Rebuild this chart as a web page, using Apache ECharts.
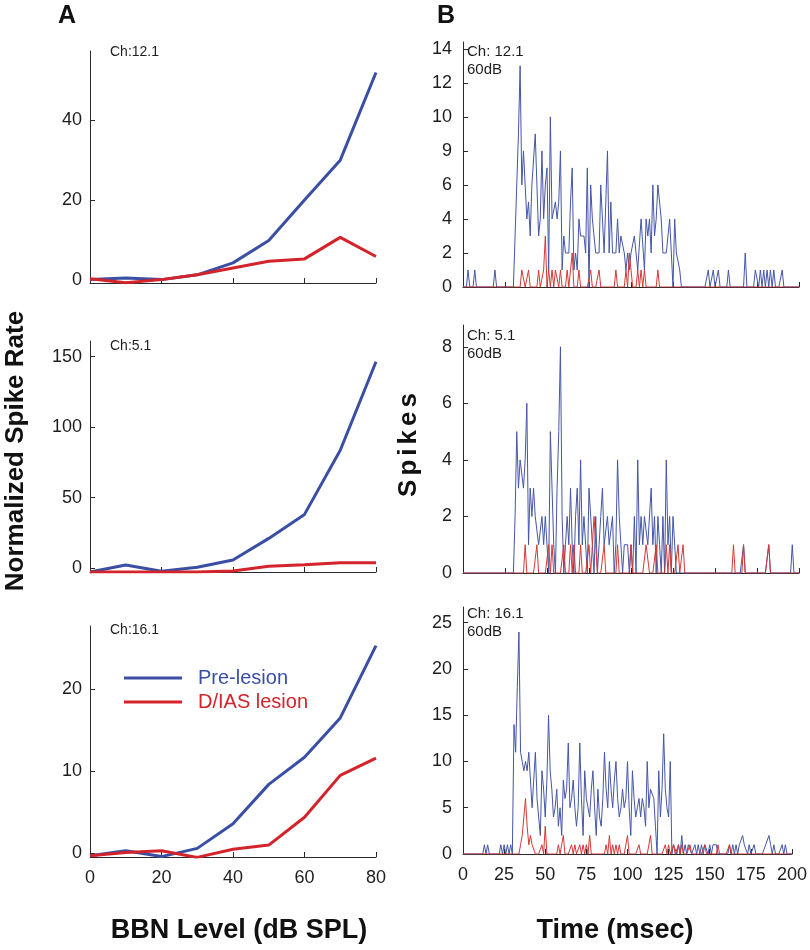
<!DOCTYPE html>
<html><head><meta charset="utf-8">
<script src="https://cdn.jsdelivr.net/npm/echarts@6/dist/echarts.min.js"></script>
<style>html,body{margin:0;padding:0;background:#fff}#c{width:810px;height:950px}</style>
</head><body><div id="c"></div>
<script>
const FONT = "'Liberation Sans', Arial, Helvetica, sans-serif";

// ---- Panel A: normalized spike rate vs BBN level ----
const bbnLevels = [0,10,20,30,40,50,60,70,80];
const bbnTicks = [0,20,40,60,80];
const ch12Pre  = [0, 0.4, 0, 1.2, 4.2, 9.8, 20, 30, 52];
const ch12Post = [0.2, -0.8, 0, 1.2, 2.9, 4.6, 5.2, 10.6, 5.8];
const ch5Pre   = [-2.6, 2.3, -2, 0.7, 5.9, 21.2, 38.2, 83.6, 146.3];
const ch5Post  = [-2.6, -2.6, -2.6, -2.6, -1.9, 1.4, 2.6, 4.0, 4.0];
const ch16Pre  = [-0.3, 0.3, -0.4, 0.6, 3.6, 8.4, 11.7, 16.5, 25.3];
const ch16Post = [-0.3, 0.1, 0.3, -0.5, 0.5, 1.0, 4.4, 9.5, 11.6];
const ch12YTicks = [0,20,40];
const ch5YTicks = [0,50,100,150];
const ch16YTicks = [0,10,20];

// ---- Panel B: PSTH, spikes per 1 ms bin, 0..200 ms ----
const timeTicks = [0,25,50,75,100,125,150,175,200];
const psthCh12Pre = [
 0,0,0,1,0,0,0,1,0,0,
 0,0,0,0,0,0,0,0,0,1,
 0,0,0,0,0,0,0,0,0,0,
 0,3,6,9,13,6,8,8,4,5,
 3,6,6,9,6,3,4,8,4,6,
 7,1,10,4,4,5,4,5,8,1,
 3,2,2,2,5,7,1,2,1,4,
 3,3,3,2,7,0,6,4,3,2,
 2,2,6,4,2,2,8,2,5,2,
 2,2,4,2,3,3,2,1,2,1,
 2,2,3,2,1,1,4,4,1,4,
 3,4,2,6,3,4,6,6,4,2,
 2,2,3,4,2,0,4,2,2,1,
 0,0,0,0,0,0,0,0,0,0,
 0,0,0,0,0,0,1,0,0,1,
 0,0,1,0,0,0,0,0,1,0,
 0,0,0,0,0,0,0,0,2,0,
 0,0,0,0,1,1,0,1,0,1,
 0,1,0,1,0,1,0,0,0,0,
 1,0,0,0,0,0,0,0,0,0,
 0];
const psthCh12Post = [
 0,0,0,0,0,0,0,0,0,0,
 0,0,0,0,0,0,0,0,0,0,
 0,0,0,0,0,0,0,0,0,0,
 0,0,0,0,0,1,1,0,0,1,
 0,0,0,0,0,1,0,0,1,3,
 0,1,0,1,0,1,1,0,1,0,
 0,0,1,0,0,2,0,0,0,1,
 0,0,0,0,0,0,1,0,0,0,
 0,1,0,0,0,0,0,0,0,0,
 0,1,0,0,0,0,0,1,0,2,
 1,0,0,0,1,0,1,0,1,0,
 0,0,0,0,0,0,1,0,0,0,
 0,0,0,0,0,0,0,0,0,0,
 0,0,0,0,0,0,0,0,0,0,
 0,0,0,0,0,0,0,0,0,0,
 0,0,0,0,0,0,0,0,0,0,
 0,0,0,0,0,0,0,0,0,0,
 0,0,0,0,0,0,0,0,0,0,
 0,0,0,0,0,0,0,0,0,0,
 0,0,0,0,0,0,0,0,0,0,
 0];
const psthCh5Pre = [
 0,0,0,0,0,0,0,0,0,0,
 0,0,0,0,0,0,0,0,0,0,
 0,0,0,0,0,0,0,0,0,0,
 0,2,5,3,4,4,3,4,6,1,
 3,2,3,2,2,1,1,2,1,2,
 2,0,5,3,1,0,3,5,8,2,
 0,1,2,1,3,1,0,2,3,1,
 4,1,2,1,0,3,3,1,0,2,
 0,1,2,3,1,1,2,1,1,2,
 0,1,4,2,1,0,1,1,1,0,
 1,0,2,0,4,1,2,1,2,2,
 1,1,3,1,2,0,2,1,0,2,
 0,4,1,2,0,2,2,0,0,0,
 0,0,0,0,0,0,0,0,0,0,
 0,0,0,0,0,0,0,0,0,0,
 0,0,0,0,0,0,0,0,0,0,
 0,0,0,0,0,0,0,1,0,0,
 0,0,0,0,0,0,0,0,0,0,
 0,0,1,0,0,0,0,0,0,0,
 0,0,0,0,0,0,1,0,0,0,
 0];
const psthCh5Post = [
 0,0,0,0,0,0,0,0,0,0,
 0,0,0,0,0,0,0,0,0,0,
 0,0,0,0,0,0,0,0,0,0,
 0,0,0,0,0,0,0,1,0,0,
 0,0,0,0,1,0,0,0,0,0,
 0,1,0,1,0,0,0,0,0,0,
 1,0,0,0,1,0,1,0,0,0,
 1,0,0,0,0,1,0,1,2,1,
 0,0,0,0,1,0,0,0,0,0,
 0,0,1,0,0,0,0,0,0,0,
 1,0,0,0,0,0,0,0,0,1,
 1,0,0,0,0,1,0,0,0,0,
 0,1,0,1,0,0,0,0,1,0,
 0,1,0,0,0,0,0,0,0,0,
 0,0,0,0,0,0,0,0,0,0,
 0,0,0,0,0,0,0,0,0,0,
 0,1,0,0,0,0,0,1,0,0,
 0,0,0,0,0,0,0,0,0,0,
 0,0,1,0,0,0,0,0,0,0,
 0,0,0,0,0,0,0,0,0,0,
 0];
const psthCh16Pre = [
 0,0,0,0,0,0,0,0,0,0,
 0,0,0,1,0,1,0,0,0,0,
 0,0,0,1,0,1,0,1,0,1,
 0,14,11,18,24,11,10,9,10,9,
 11,11,5,8,11,6,4,2,9,7,
 4,8,15,9,7,4,5,7,3,5,
 2,8,6,7,12,5,6,8,5,3,
 5,12,6,2,9,6,5,4,7,9,
 5,2,7,4,3,6,11,7,5,10,
 7,5,8,10,6,4,5,7,5,6,
 10,5,2,9,6,4,5,6,4,6,
 5,3,10,5,7,7,6,3,0,9,
 4,7,13,7,5,4,10,0,1,1,
 0,1,0,2,0,1,0,1,1,0,
 0,1,0,1,0,1,0,1,1,0,
 1,0,1,1,1,0,0,0,0,0,
 0,0,1,0,1,0,1,0,1,1,
 2,1,1,0,1,0,0,1,0,0,
 0,0,0,0,1,1,2,1,0,1,
 0,0,0,0,1,0,1,0,0,0,
 0];
const psthCh16Post = [
 0,0,0,0,0,0,0,0,0,0,
 0,0,0,0,0,0,0,0,0,0,
 0,0,0,0,0,0,0,0,0,0,
 0,0,0,0,0,1,2,4,6,3,
 1,2,1,1,0,0,0,0,1,0,
 3,0,0,0,0,0,0,0,1,0,
 1,2,0,0,0,0,1,0,1,0,
 0,1,0,1,0,1,0,2,0,0,
 0,0,0,0,0,0,0,1,0,2,
 0,1,0,1,0,1,0,0,0,0,
 2,0,0,0,0,0,0,1,0,0,
 0,0,0,0,2,0,0,0,0,0,
 0,0,0,1,0,1,0,0,1,0,
 0,1,0,1,0,0,0,0,1,0,
 0,0,0,0,0,0,0,1,0,0,
 0,0,0,0,0,1,0,0,0,0,
 0,0,1,0,0,0,0,0,0,0,
 0,0,0,0,0,0,0,0,0,0,
 0,0,0,0,0,0,0,0,0,0,
 0,0,0,0,0,0,0,0,0,0,
 0];
const psth12YTicks = [0,2,4,6,8,10,12,14];
const psth12YLabels = ['0','2','4','6','9','10','12','14'];
const psth5YTicks = [0,2,4,6,8];
const psth16YTicks = [0,5,10,15,20,25];

const seriesNames = ['Pre-lesion', 'D/IAS lesion'];
const chLabelsA = ['Ch:12.1', 'Ch:5.1', 'Ch:16.1'];
const chLabelsB = ['Ch: 12.1\n60dB', 'Ch: 5.1\n60dB', 'Ch: 16.1\n60dB'];

// ---- styles / layout ----
const BLUE_A = '#3a4fa3', RED_A = '#d3242b';
const BLUE_B = '#4556a6', RED_B = '#d53838';
const AXC = '#2a2a2a', TXC = '#1e1e1e';

const gridsA = [
  {left: 90, top: 51, width: 286, height: 232},
  {left: 90, top: 341, width: 286, height: 231},
  {left: 90, top: 626, width: 286, height: 231}
];
const gridsB = [
  {left: 463, top: 42, width: 336, height: 245},
  {left: 463, top: 325, width: 336, height: 248},
  {left: 463, top: 607, width: 336, height: 247}
];
const yRangesA = [[-0.85, 57.4], [-2.6, 161], [-0.45, 27.7]];
const yRangesB = [[0, 14.4], [0, 8.77], [0, 26.7]];
const yTicksA = [ch12YTicks, ch5YTicks, ch16YTicks];
const yTicksB = [psth12YTicks, psth5YTicks, psth16YTicks];
const dataA = [[ch12Pre, ch12Post], [ch5Pre, ch5Post], [ch16Pre, ch16Post]];
const dataB = [[psthCh12Pre, psthCh12Post], [psthCh5Pre, psthCh5Post], [psthCh16Pre, psthCh16Post]];

const grid = [], xAxis = [], yAxis = [], series = [];

function mkX(gi, min, max, ticks, showLabels) {
  return {
    gridIndex: gi, type: 'value', min: min, max: max, interval: ticks[1] - ticks[0],
    axisLine: {show: true, onZero: false, lineStyle: {color: AXC, width: 1}},
    axisTick: {show: true, inside: true, length: 5, lineStyle: {color: AXC}},
    axisLabel: {show: showLabels, fontSize: 18, color: TXC, fontFamily: FONT, margin: 12},
    splitLine: {show: false}
  };
}
function mkY(gi, range, ticks, margin, labels) {
  return {
    gridIndex: gi, type: 'value', min: range[0], max: range[1],
    axisLine: {show: true, onZero: false, lineStyle: {color: AXC, width: 1}},
    axisTick: {show: true, inside: true, length: 5, lineStyle: {color: AXC}, customValues: ticks},
    axisLabel: {show: true, fontSize: 18, color: TXC, fontFamily: FONT, margin: margin, customValues: ticks,
      formatter: function (v) {
        if (labels) { const i = ticks.indexOf(v); return i >= 0 ? labels[i] : ''; }
        return String(v);
      }},
    splitLine: {show: false}
  };
}

for (let p = 0; p < 3; p++) {
  grid.push(gridsA[p]);
  xAxis.push(mkX(p, 0, 80, bbnTicks, p === 2));
  yAxis.push(mkY(p, yRangesA[p], yTicksA[p], 8, null));
  [BLUE_A, RED_A].forEach(function (col, k) {
    series.push({
      name: seriesNames[k], type: 'line', xAxisIndex: p, yAxisIndex: p,
      data: bbnLevels.map(function (x, i) { return [x, dataA[p][k][i]]; }),
      showSymbol: false, symbol: 'none', lineStyle: {color: col, width: 3}, itemStyle: {color: col},
      silent: true, animation: false, z: 2 + k
    });
  });
}
for (let p = 0; p < 3; p++) {
  const gi = 3 + p;
  grid.push(gridsB[p]);
  xAxis.push(mkX(gi, 0, 200, timeTicks, p === 2));
  yAxis.push(mkY(gi, yRangesB[p], yTicksB[p], 11, p === 0 ? psth12YLabels : null));
  [BLUE_B, RED_B].forEach(function (col, k) {
    series.push({
      name: seriesNames[k], type: 'line', xAxisIndex: gi, yAxisIndex: gi,
      data: dataB[p][k].map(function (v, ms) { return [ms, v]; }),
      showSymbol: false, symbol: 'none', lineStyle: {color: col, width: 1}, itemStyle: {color: col},
      silent: true, animation: false, z: 2 + k
    });
  });
}

function centered(x, y, text, size, rot) {
  return {
    type: 'text', x: x, y: y, rotation: rot || 0, silent: true,
    style: {text: text, fill: '#111', fontSize: size, fontWeight: 'bold', fontFamily: FONT,
      align: 'center', verticalAlign: 'middle', textAlign: 'center', textVerticalAlign: 'middle'}
  };
}

const graphic = [];
graphic.push(centered(67, 16, 'A', 25));
graphic.push(centered(446, 16, 'B', 25));
const chAY = [45, 339, 623];
for (let p = 0; p < 3; p++) graphic.push({
  type: 'text', x: 110, y: chAY[p], silent: true,
  style: {text: chLabelsA[p], fill: TXC, fontSize: 14, fontFamily: FONT, align: 'left', verticalAlign: 'top', textAlign: 'left', textVerticalAlign: 'top'}
});
const chBY = [43, 327, 605];
for (let p = 0; p < 3; p++) graphic.push({
  type: 'text', x: 467, y: chBY[p], silent: true,
  style: {text: chLabelsB[p], fill: TXC, fontSize: 15, lineHeight: 18, fontFamily: FONT, align: 'left', verticalAlign: 'top', textAlign: 'left', textVerticalAlign: 'top'}
});
graphic.push(centered(16, 451, 'Normalized Spike Rate', 26, Math.PI / 2));
graphic.push({
  type: 'text', x: 409, y: 445, rotation: Math.PI / 2, silent: true,
  style: {text: '{s|S}{s|p}{s|i}{s|k}{s|e}{s|s}', fill: '#111', fontFamily: FONT,
    align: 'center', verticalAlign: 'middle', textAlign: 'center', textVerticalAlign: 'middle',
    rich: {s: {fontSize: 26, fontWeight: 'bold', fontFamily: FONT, fill: '#111', padding: [0, 2, 0, 2]}}}
});
graphic.push(centered(239, 931, 'BBN Level (dB SPL)', 27));
graphic.push(centered(615, 931, 'Time (msec)', 27));

const chart = echarts.init(document.getElementById('c'), null, {renderer: 'canvas'});
chart.setOption({
  backgroundColor: '#ffffff',
  animation: false,
  grid: grid, xAxis: xAxis, yAxis: yAxis, series: series, graphic: graphic,
  legend: {
    orient: 'vertical', left: 124, top: 668, padding: 0, itemGap: 4,
    itemWidth: 58, itemHeight: 3, icon: 'rect', selectedMode: false,
    textStyle: {fontSize: 20, fontFamily: FONT, lineHeight: 20, padding: [0, 0, 0, 11]},
    data: [
      {name: seriesNames[0], textStyle: {color: BLUE_A}, itemStyle: {color: BLUE_A}},
      {name: seriesNames[1], textStyle: {color: RED_A}, itemStyle: {color: RED_A}}
    ]
  }
});
</script>
</body></html>
